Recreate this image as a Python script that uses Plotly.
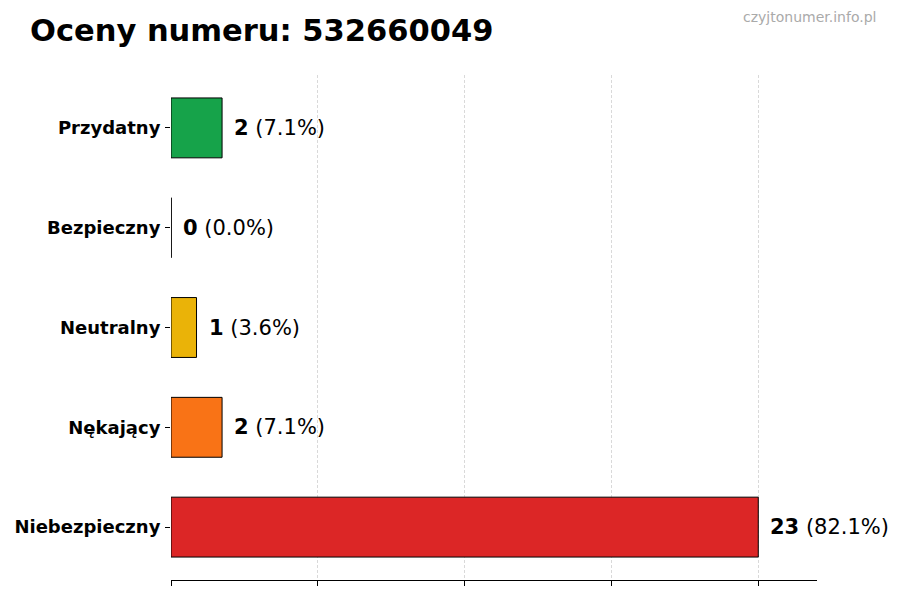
import plotly.graph_objects as go
import numpy as np

categories = ["Niebezpieczny", "Nękający", "Neutralny", "Bezpieczny", "Przydatny"]
counts = [23, 2, 1, 0, 2]
percents = [82.1, 7.1, 3.6, 0.0, 7.1]
colors = ["#dc2626", "#f97316", "#eab308", "#3b82f6", "#16a34a"]
title = "Oceny numeru: 532660049"
watermark = "czyjtonumer.info.pl"

ypos = list(range(len(categories)))
vmax = max(counts)

fig = go.Figure()
fig.add_trace(go.Bar(
    x=counts, y=ypos, orientation="h", width=0.6,
    marker=dict(color=colors, line=dict(color="black", width=1)),
    hoverinfo="skip", showlegend=False,
))
# outline for zero-width bars
for yv, c in zip(ypos, counts):
    if c == 0:
        fig.add_trace(go.Scatter(x=[c, c], y=[yv - 0.3, yv + 0.3], mode="lines",
                                 line=dict(color="black", width=1.2),
                                 showlegend=False, hoverinfo="skip"))

for yv, c, p in zip(ypos, counts, percents):
    fig.add_annotation(x=c, y=yv, text=f"<b>{c}</b> ({p:.1f}%)", showarrow=False,
                       xanchor="left", yanchor="middle", xshift=10,
                       font=dict(family="DejaVu Sans", size=21, color="black"))

fig.add_annotation(xref="paper", yref="paper", x=-0.222, y=1.089, text=f"<b>{title}</b>",
                   showarrow=False, xanchor="left", yanchor="middle",
                   font=dict(family="DejaVu Sans", size=30.5, color="black"))
fig.add_annotation(xref="paper", yref="paper", x=1.0944, y=1.1149, text=watermark,
                   showarrow=False, xanchor="right", yanchor="middle",
                   font=dict(family="DejaVu Sans", size=14, color="#aaaaaa"))

fig.update_layout(
    width=900, height=600,
    margin=dict(l=163, r=91, t=67, b=28),
    plot_bgcolor="white", paper_bgcolor="white",
    xaxis=dict(range=[0, vmax * 1.1], tickvals=list(np.linspace(0, vmax, 5)),
               showticklabels=False, ticks="outside", ticklen=5, tickcolor="black",
               showgrid=True, gridcolor="#d9d9d9", griddash="3px,2px", gridwidth=1,
               showline=True, linecolor="black", linewidth=1, zeroline=False,
               automargin=False),
    yaxis=dict(range=[-0.53, len(categories) - 1 + 0.53], tickvals=ypos, ticktext=[f"<b>{c}</b>" for c in categories],
               ticks="outside", ticklen=5, tickcolor="black", showgrid=False, zeroline=False,
               showline=False, tickfont=dict(family="DejaVu Sans", size=18, color="black"),
               automargin=False, ticklabelstandoff=1),
    font=dict(family="DejaVu Sans"),
)

fig.write_html("out.html")
